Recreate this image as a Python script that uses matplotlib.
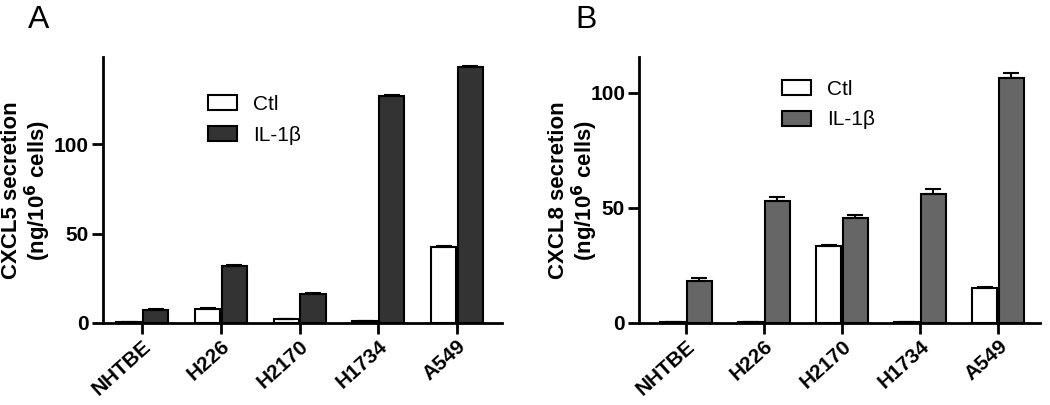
import numpy as np
from matplotlib import pyplot as plt

plt.rcParams['font.family'] = ['Liberation Sans', 'DejaVu Sans']

cells = ['NHTBE', 'H226', 'H2170', 'H1734', 'A549']

# panel A: CXCL5
cxcl5_ctl = [0.5, 7.6, 2.0, 1.0, 42.3]
cxcl5_ctl_err = [0.3, 0.8, 0.5, 0.3, 0.5]
cxcl5_il1b = [7.2, 32.0, 16.2, 127.0, 143.0]
cxcl5_il1b_err = [0.8, 0.3, 0.3, 0.6, 0.8]

# panel B: CXCL8
cxcl8_ctl = [0.3, 0.3, 33.3, 0.3, 15.4]
cxcl8_ctl_err = [0.1, 0.1, 0.8, 0.1, 0.3]
cxcl8_il1b = [18.3, 53.0, 45.8, 56.0, 106.5]
cxcl8_il1b_err = [1.2, 1.8, 1.0, 2.2, 2.4]


def draw_panel(ax, ctl, ctl_err, il, il_err, il_color, ylabel, ymax, xlim, leg_anchor, lab_x):
    x = np.arange(len(cells))
    w = 0.32
    off = 0.17
    ekw = dict(elinewidth=1.5, capthick=1.5, ecolor='black')
    ax.bar(x - off, ctl, w, yerr=[np.zeros(len(ctl)), ctl_err], capsize=6,
           color='white', edgecolor='black', linewidth=1.5, label='Ctl', error_kw=ekw)
    ax.bar(x + off, il, w, yerr=[np.zeros(len(il)), il_err], capsize=6,
           color=il_color, edgecolor='black', linewidth=1.5, label='IL-1β', error_kw=ekw)
    ax.set_xlim(*xlim)
    ax.set_ylim(0, ymax)
    ax.set_yticks([0, 50, 100])
    ax.set_xticks(x)
    ax.set_xticklabels(cells, rotation=42, ha='right', rotation_mode='anchor',
                       fontsize=15, fontweight='bold')
    for lab in ax.get_yticklabels():
        lab.set_fontsize(15)
        lab.set_fontweight('bold')
    ax.tick_params(width=2, length=8, direction='out', pad=2)
    ax.spines['top'].set_visible(False)
    ax.spines['right'].set_visible(False)
    ax.spines['left'].set_linewidth(2)
    ax.spines['bottom'].set_linewidth(2)
    ax.set_ylabel(ylabel, fontsize=16, fontweight='bold', linespacing=1.05)
    ax.yaxis.set_label_coords(lab_x, 0.5)
    ax.legend(loc='upper left', bbox_to_anchor=leg_anchor, frameon=False,
              fontsize=15, handlelength=1.4, handleheight=0.75, handletextpad=0.77,
              labelspacing=0.55, borderpad=0, borderaxespad=0)


fig = plt.figure(figsize=(10.5, 4.05), dpi=100)
axA = fig.add_axes([0.098, 0.2025, 0.380, 0.6565])
axB = fig.add_axes([0.6086, 0.2025, 0.3814, 0.6565])

draw_panel(axA, cxcl5_ctl, cxcl5_ctl_err, cxcl5_il1b, cxcl5_il1b_err, '#333333',
           'CXCL5 secretion\n(ng/10$^\\mathbf{6}$ cells)', 148.6, (-0.5, 4.57),
           (0.263, 0.857), -0.125)
draw_panel(axB, cxcl8_ctl, cxcl8_ctl_err, cxcl8_il1b, cxcl8_il1b_err, '#666666',
           'CXCL8 secretion\n(ng/10$^\\mathbf{6}$ cells)', 115.6, (-0.6, 4.53),
           (0.357, 0.914), -0.097)

fig.text(0.027, 0.93, 'A', fontsize=23)
fig.text(0.548, 0.93, 'B', fontsize=23)

fig.savefig('out.png', dpi=100)
